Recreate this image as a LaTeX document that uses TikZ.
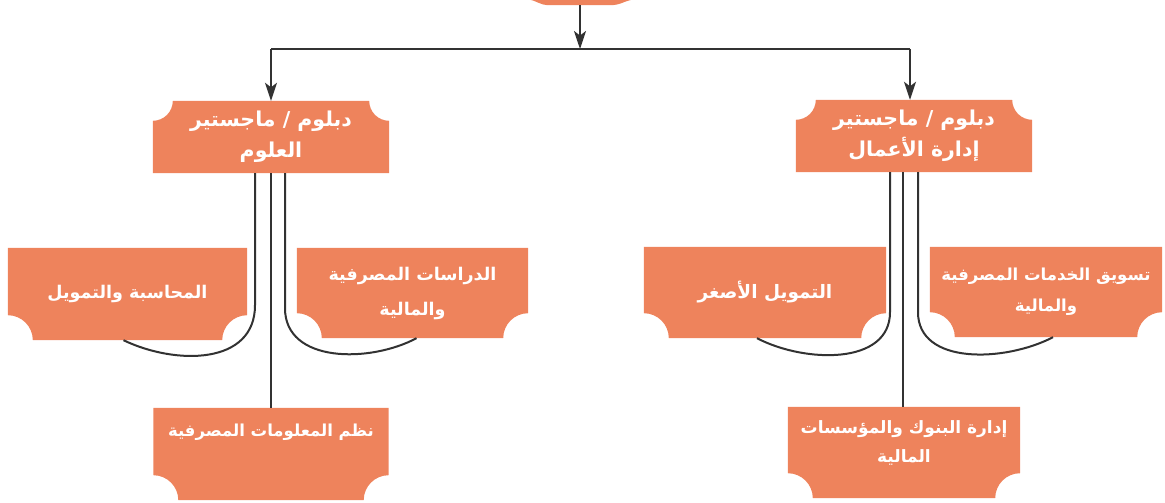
\documentclass[tikz,border=0pt]{standalone}
\usepackage{fontspec}
\newfontfamily\arabicfont[Script=Arabic]{DejaVu Sans}
\TeXXeTstate=1
\usetikzlibrary{positioning,arrows.meta,backgrounds}
\usepackage{xcolor}
\definecolor{boxorange}{RGB}{238,131,92}
\definecolor{linegray}{RGB}{50,50,50}

% orange panel with the two upper corners cut round
\newcommand{\notchtop}[2][20pt]{%
  \begin{scope}[on background layer]
    \fill[boxorange] (#2.south west) -- ([yshift=-#1]#2.north west) arc[start angle=270, end angle=360, radius=#1]
      -- ([xshift=-#1]#2.north east) arc[start angle=180, end angle=270, radius=#1] -- (#2.south east) -- cycle;
  \end{scope}}
% orange panel with the two lower corners cut round
\newcommand{\notchbottom}[2][25pt]{%
  \begin{scope}[on background layer]
    \fill[boxorange] ([yshift=#1]#2.south west) -- (#2.north west) -- (#2.north east)
      -- ([yshift=#1]#2.south east) arc[start angle=90, end angle=180, radius=#1]
      -- ([xshift=#1]#2.south west) arc[start angle=0, end angle=90, radius=#1] -- cycle;
  \end{scope}}
\newcommand{\trackfont}[2]{\arabicfont\bfseries\fontsize{#1}{#2}\selectfont}

\begin{document}
\begin{tikzpicture}[x=1pt, y=1pt,
	degree/.style={text=white, font=\trackfont{20.5}{31}, align=center, minimum width=236pt, minimum height=72pt, inner sep=0pt},
	track/.style={text=white, font=\trackfont{17.5}{35}, align=center, inner sep=0pt},
	link/.style={draw=linegray, line width=2pt},
	tip/.style={-{Stealth[length=18pt, width=12pt, inset=4.5pt]}}]
	\useasboundingbox (0,0) rectangle (1165,-503);
	\clip (0,0) rectangle (1165,-503);
	% top level (cut by the frame)
	\node[minimum width=116pt, minimum height=40pt, inner sep=0pt] (top) at (580,15) {};
	\fill[boxorange] ([xshift=-54pt,yshift=6pt]top.south) .. controls +(12,-1) and +(-12,0) .. ([xshift=-30pt]top.south)
		-- ([xshift=30pt]top.south) .. controls +(12,0) and +(-12,-1) .. ([xshift=56pt,yshift=6pt]top.south) -- cycle;
	% the two degrees
	\node[degree] (sci) at (271,-137) {\beginR دبلوم / ماجستير\endR\\\beginR العلوم\endR};
	\node[degree] (biz) at (914,-136) {\beginR دبلوم / ماجستير\endR\\\beginR إدارة الأعمال\endR};
	% tracks
	\node[track, minimum width=239pt, minimum height=92pt] (acc) at (127.5,-294) {\beginR المحاسبة والتمويل\endR};
	\node[track, minimum width=231pt, minimum height=90pt] (bankst) at (412.5,-293) {\beginR الدراسات المصرفية\endR\\\beginR والمالية\endR};
	\node[track, minimum width=235pt, minimum height=92pt, text depth=47pt, font=\trackfont{16.5}{31}] (nzm) [below of=sci, node distance=317pt] {\beginR نظم المعلومات المصرفية\endR};
	\node[track, minimum width=242pt, minimum height=91pt, font=\trackfont{18.5}{35}] (micro) at (765,-292.5) {\beginR التمويل الأصغر\endR};
	\node[track, minimum width=232pt, minimum height=90pt, font=\trackfont{16.5}{31}] (mkt) at (1046,-292) {\beginR تسويق الخدمات المصرفية\endR\\\beginR والمالية\endR};
	\node[track, minimum width=232pt, minimum height=91pt, text depth=22pt, font=\trackfont{17}{29}] (lead) at (904,-452.5) {\beginR إدارة البنوك والمؤسسات\endR\\\beginR المالية\endR};
	\notchtop{sci}
	\notchtop{biz}
	\notchbottom{acc}
	\notchbottom{bankst}
	\notchbottom{nzm}
	\notchbottom{micro}
	\notchbottom{mkt}
	\notchbottom{lead}
	% arrows from the top
	\coordinate (hub) at (580,-49);
	\draw[link, tip] (top.south) -- (hub);
	\draw[link] (sci.north |- hub) -- ([xshift=-4pt]biz.north |- hub);
	\draw[link, tip] (sci.north |- hub) -- (sci.north);
	\draw[link, tip] ([xshift=-4pt]biz.north |- hub) -- ([xshift=-4pt]biz.north);
	% branches of the science degree
	\draw[link] ([xshift=-16pt]sci.south) -- ++(0,-132) .. controls +(0,-60) and +(52,-25) .. ([xshift=-4pt]acc.south);
	\draw[link] (sci.south) -- (nzm.north);
	\draw[link] ([xshift=14pt]sci.south) -- ++(0,-135) .. controls +(0,-55) and +(-47,-25) .. ([xshift=4pt]bankst.south);
	% branches of the business degree
	\draw[link] ([xshift=-24pt]biz.south) -- ++(0,-140) .. controls +(0,-53) and +(48,-25) .. ([xshift=-8pt]micro.south);
	\draw[link] ([xshift=-11pt]biz.south) -- ([xshift=-11pt]biz.south |- lead.north);
	\draw[link] ([xshift=4pt]biz.south) -- ++(0,-140) .. controls +(0,-53) and +(-48,-25) .. ([xshift=7pt]mkt.south);
\end{tikzpicture}
\end{document}
